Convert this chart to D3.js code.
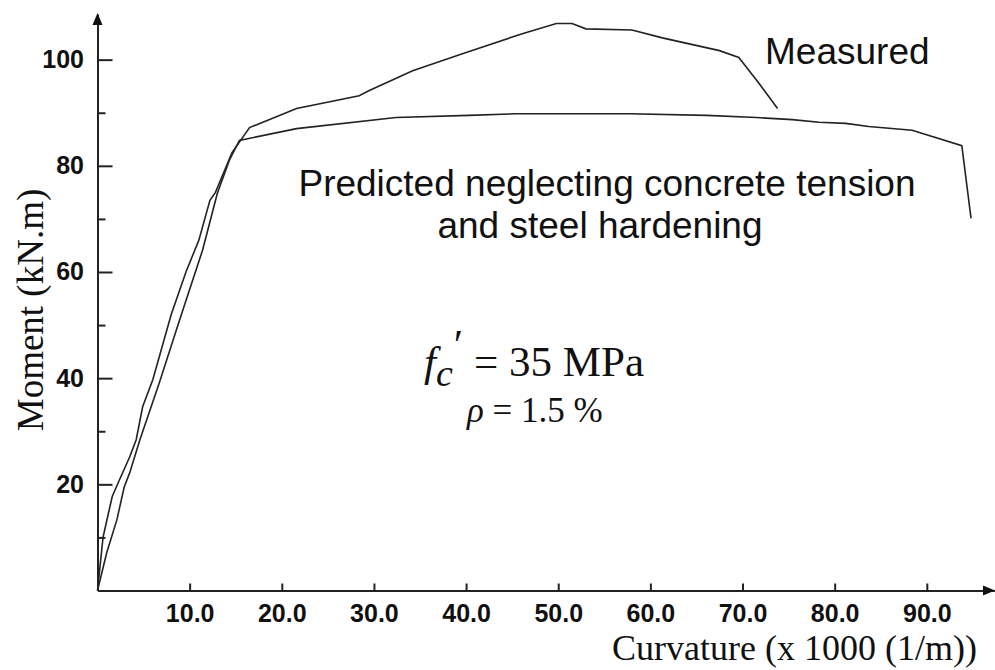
<!DOCTYPE html>
<html>
<head>
<meta charset="utf-8">
<script src="https://cdn.jsdelivr.net/npm/d3@7"></script>
<style>
  body { margin: 0; background: #fff; }
  svg { display: block; }
  .tick text { font-family: "Liberation Sans", Arial, sans-serif; font-weight: bold; font-size: 25px; fill: #111; }
  .note { font-family: "Liberation Sans", Arial, sans-serif; font-size: 37px; fill: #111; }
  .serif { font-family: "Liberation Serif", "Times New Roman", serif; fill: #111; }
</style>
</head>
<body>
<div id="chart"></div>
<script>
// moment-curvature data, curvature in x1000 (1/m), moment in kN.m
var measuredK = [0, 0.6, 1.1, 1.6, 2.4, 3.5, 4.2, 4.9, 6.0, 8.0, 9.6, 11.0, 12.2, 12.8, 14.6, 16.5,
                 21.6, 28.4, 29.5, 34.2, 39.6, 46.1, 49.8, 51.5, 53.0, 58.0, 61.3, 67.5, 69.6, 71.8, 73.8];
var measuredM = [0, 10, 13.9, 17.7, 20.9, 25.2, 28.4, 34.6, 39.7, 52, 60, 66, 73.5, 75, 82.5, 87.2,
                 90.8, 93.2, 94.2, 97.9, 101.1, 104.9, 106.8, 106.8, 105.8, 105.6, 104.1, 101.7, 100.4, 95.5, 90.8];

var predictedK = [0, 1.0, 2.1, 2.9, 3.5, 4.6, 5.6, 6.7, 8.9, 11.4, 13.0, 14.3, 15.4,
                  21.6, 32.4, 40.3, 45.4, 57.7, 66.1, 71.5, 75.4, 78.3, 81.2, 83.7, 88.4, 93.8, 94.8];
var predictedM = [0, 7.1, 13.3, 19.5, 22.2, 28.4, 33.5, 39.1, 50.9, 64.1, 74.8, 81, 84.8,
                  87.0, 89.1, 89.5, 89.8, 89.8, 89.5, 89.1, 88.7, 88.2, 88.0, 87.4, 86.7, 83.8, 70.1];

var xTicks = [10, 20, 30, 40, 50, 60, 70, 80, 90];
var yTicks = [20, 40, 60, 80, 100];
var yMinorTicks = [10, 30, 50, 70, 90];

var w = 995, h = 670;

var svg = d3.select("#chart").append("svg")
  .attr("width", w)
  .attr("height", h);

var x = d3.scaleLinear().domain([0, 97.4]).range([97.5, 995]);
var y = d3.scaleLinear().domain([0, 108.6]).range([590.5, 14]);

// axes
var xAxis = d3.axisBottom(x)
  .tickValues(xTicks)
  .tickSizeInner(-7)
  .tickSizeOuter(0)
  .tickPadding(10)
  .tickFormat(d3.format(".1f"));

var yAxis = d3.axisLeft(y)
  .tickValues(yTicks)
  .tickSizeInner(-15)
  .tickSizeOuter(0)
  .tickPadding(11)
  .tickFormat(d3.format("d"));

var yMinor = d3.axisLeft(y)
  .tickValues(yMinorTicks)
  .tickSizeInner(-8)
  .tickSizeOuter(0)
  .tickFormat("");

var gx = svg.append("g")
  .attr("transform", "translate(0," + y(0) + ")")
  .call(xAxis);
var gy = svg.append("g")
  .attr("transform", "translate(" + x(0) + ",0)")
  .call(yAxis);
var gm = svg.append("g")
  .attr("transform", "translate(" + x(0) + ",0)")
  .call(yMinor);

[gx, gy, gm].forEach(function(g) {
  g.selectAll("path, line").attr("stroke", "#222").attr("stroke-width", 2);
});
gm.select(".domain").remove();
gx.selectAll(".tick text").attr("dy", "0.85em");
gy.selectAll(".tick text").attr("dx", "-0.1em");

// arrow heads at the ends of the axes
svg.append("path")
  .attr("d", "M" + x(0) + "," + (y.range()[1] - 1) + " l-5,12 l10,0 z")
  .attr("fill", "#111");
svg.append("path")
  .attr("d", "M" + (x.range()[1]) + "," + y(0) + " l-12,-5 l0,10 z")
  .attr("fill", "#111");

// curves
var line = d3.line()
  .x(function(d) { return x(d[0]); })
  .y(function(d) { return y(d[1]); });

var measured = d3.zip(measuredK, measuredM);
var predicted = d3.zip(predictedK, predictedM);

[measured, predicted].forEach(function(s) {
  svg.append("path")
    .datum(s)
    .attr("d", line)
    .attr("fill", "none")
    .attr("stroke", "#222")
    .attr("stroke-width", 1.6);
});

// axis titles
svg.append("text")
  .attr("class", "serif")
  .attr("x", 977).attr("y", 660)
  .attr("text-anchor", "end")
  .attr("font-size", 36)
  .text("Curvature (x 1000 (1/m))");

svg.append("text")
  .attr("class", "serif")
  .attr("transform", "translate(43,310) rotate(-90)")
  .attr("text-anchor", "middle")
  .attr("font-size", 37)
  .text("Moment (kN.m)");

// annotations
svg.append("text").attr("class", "note")
  .attr("x", 765).attr("y", 64)
  .text("Measured");
svg.append("text").attr("class", "note")
  .attr("x", 607).attr("y", 196)
  .attr("text-anchor", "middle")
  .attr("font-size", 38)
  .text("Predicted neglecting concrete tension");
svg.append("text").attr("class", "note")
  .attr("x", 600).attr("y", 238)
  .attr("text-anchor", "middle")
  .attr("font-size", 38)
  .text("and steel hardening");

var fc = svg.append("text").attr("class", "serif")
  .attr("x", 424).attr("y", 376)
  .attr("font-size", 43);
fc.append("tspan").attr("font-style", "italic").text("f");
fc.append("tspan").attr("font-style", "italic").attr("font-size", 38).attr("dy", 10).attr("dx", 0).text("c");
fc.append("tspan").attr("dy", -27).attr("dx", 1).text("\u2032");
fc.append("tspan").attr("dy", 17).text(" = 35 MPa");

var rho = svg.append("text").attr("class", "serif")
  .attr("x", 467).attr("y", 422)
  .attr("font-size", 35);
rho.append("tspan").attr("font-style", "italic").text("\u03c1");
rho.append("tspan").text(" = 1.5 %");
</script>
</body>
</html>
